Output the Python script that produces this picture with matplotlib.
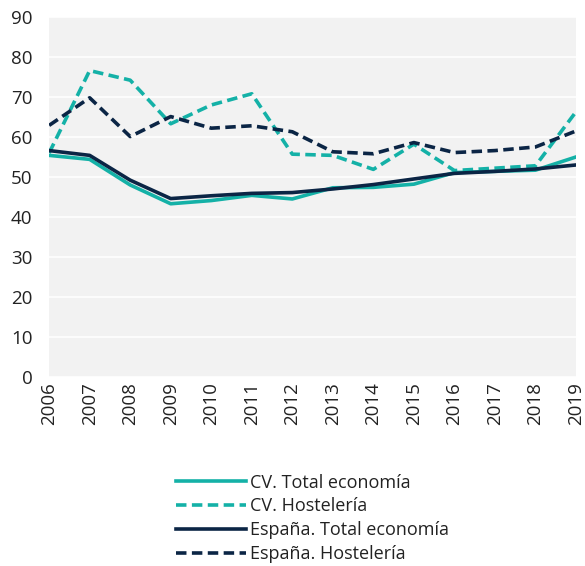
import matplotlib
matplotlib.use("Agg")
import matplotlib.pyplot as plt

years = list(range(2006, 2020))
cv_total = [55.4, 54.4, 48.0, 43.3, 44.1, 45.4, 44.5, 47.3, 47.4, 48.2, 51.1, 51.4, 51.7, 55.0]
cv_host = [56.0, 76.6, 74.2, 63.3, 68.0, 70.8, 55.7, 55.4, 51.9, 58.2, 51.6, 52.2, 52.8, 66.3]
es_total = [56.6, 55.4, 49.2, 44.6, 45.3, 45.9, 46.1, 47.0, 48.1, 49.5, 50.9, 51.4, 52.0, 53.0]
es_host = [62.9, 69.8, 60.1, 65.1, 62.2, 62.8, 61.3, 56.3, 55.8, 58.6, 56.1, 56.6, 57.5, 61.5]

labels = ["CV. Total economía", "CV. Hostelería", "España. Total economía", "España. Hostelería"]
teal = "#14b1a7"
navy = "#0b2545"

plt.rcParams["font.family"] = ["Open Sans", "DejaVu Sans"]

fig = plt.figure(figsize=(5.85, 5.66), dpi=100)
ax = fig.add_axes([0.084, 0.334, 0.9006, 0.636])
ax.set_facecolor("#f2f2f2")

dash = (0, (2.9, 1.5))
lw = 2.6
ax.plot(years, cv_total, color=teal, lw=lw, label=labels[0])
ax.plot(years, cv_host, color=teal, lw=lw, linestyle=dash, label=labels[1])
ax.plot(years, es_total, color=navy, lw=lw, label=labels[2])
ax.plot(years, es_host, color=navy, lw=lw, linestyle=dash, label=labels[3])

ax.set_xlim(2006, 2019)
ax.set_ylim(0, 90)
ax.set_yticks(range(0, 91, 10))
ax.set_xticks(years)
ax.set_xticklabels([str(y) for y in years], rotation=90)
ax.tick_params(axis="both", length=0, labelsize=13.5, colors="#222222")
ax.tick_params(axis="y", pad=12)
ax.tick_params(axis="x", pad=4)
ax.grid(axis="y", color="white", lw=1.2)
ax.set_axisbelow(True)
for s in ax.spines.values():
    s.set_visible(False)

fig.legend(loc="upper center", bbox_to_anchor=(0.534, 0.179), frameon=False,
           fontsize=13, handlelength=3.9, handletextpad=0.2, labelspacing=0.32,
           borderpad=0, labelcolor="#222222")

fig.savefig("out.png", dpi=100)
